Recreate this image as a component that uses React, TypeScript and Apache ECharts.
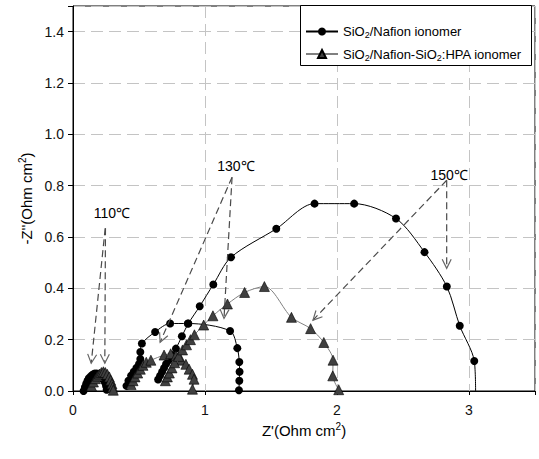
import React, { useEffect, useRef } from 'react';
import * as echarts from 'echarts';

// Series names (legend)
const seriesNames = ['SiO2/Nafion ionomer', 'SiO2/Nafion-SiO2:HPA ionomer'];

// SiO2/Nafion ionomer (circles) [Z', -Z'']
const nafion110 = [
  [0.08, 0.0], [0.09, 0.015], [0.1, 0.028], [0.11, 0.04], [0.12, 0.05], [0.135, 0.058],
  [0.15, 0.064], [0.165, 0.068], [0.18, 0.068], [0.195, 0.064], [0.21, 0.057],
  [0.225, 0.047], [0.24, 0.035], [0.25, 0.02], [0.255, 0.005],
];
const nafion130 = [
  [0.405, 0.02], [0.42, 0.04], [0.44, 0.06], [0.46, 0.075], [0.48, 0.09], [0.5, 0.105],
  [0.51, 0.125], [0.51, 0.152], [0.522, 0.185], [0.622, 0.23], [0.736, 0.263],
  [0.87, 0.263], [1.19, 0.234], [1.245, 0.167], [1.26, 0.113], [1.262, 0.075],
  [1.26, 0.04], [1.257, 0.003],
];
const nafion150 = [
  [0.645, 0.045], [0.66, 0.06], [0.675, 0.075], [0.69, 0.09], [0.705, 0.105],
  [0.725, 0.12], [0.75, 0.14], [0.78, 0.165], [0.825, 0.213], [0.874, 0.263],
  [0.96, 0.33], [1.063, 0.415], [1.197, 0.521], [1.54, 0.632], [1.83, 0.73],
  [2.13, 0.73], [2.447, 0.672], [2.663, 0.541], [2.832, 0.407], [2.93, 0.254],
  [3.04, 0.117], [3.05, 0.0],
];

// SiO2/Nafion-SiO2:HPA ionomer (triangles)
const hpa110 = [
  [0.14, 0.02], [0.155, 0.035], [0.17, 0.048], [0.185, 0.058], [0.2, 0.066],
  [0.215, 0.072], [0.23, 0.075], [0.245, 0.072], [0.26, 0.065], [0.275, 0.055],
  [0.285, 0.042], [0.295, 0.028], [0.3, 0.015], [0.305, 0.003],
];
const hpa130 = [
  [0.44, 0.025], [0.455, 0.04], [0.47, 0.055], [0.49, 0.07], [0.51, 0.085], [0.53, 0.1],
  [0.555, 0.112], [0.59, 0.12], [0.69, 0.14], [0.74, 0.145], [0.78, 0.137],
  [0.82, 0.12], [0.855, 0.104], [0.88, 0.085], [0.905, 0.065], [0.917, 0.046],
  [0.905, 0.007],
];
const hpa150 = [
  [0.7, 0.04], [0.715, 0.055], [0.73, 0.07], [0.75, 0.09], [0.77, 0.11], [0.8, 0.135],
  [0.83, 0.16], [0.86, 0.18], [0.89, 0.2], [0.92, 0.219], [0.99, 0.257], [1.06, 0.293],
  [1.17, 0.339], [1.3, 0.384], [1.45, 0.407], [1.655, 0.287], [1.8, 0.243],
  [1.9, 0.189], [1.97, 0.12], [1.968, 0.059], [2.013, 0.005],
];

// Annotations (data units): arrow [fromX, fromY, toX, toY]
const arrowSegments = [
  [0.244, 0.634, 0.138, 0.108],
  [0.246, 0.634, 0.241, 0.108],
  [1.205, 0.833, 0.66, 0.19],
  [1.205, 0.833, 1.144, 0.283],
  [2.831, 0.821, 2.831, 0.478],
  [2.831, 0.821, 1.818, 0.276],
];
const tempLabels = ['110℃', '130℃', '150℃'];
const tempLabelPos = [
  [0.295, 0.695],
  [1.234, 0.876],
  [2.85, 0.841],
];

const FONT = '"Liberation Sans", Arial, sans-serif';

export default function App() {
  const ref = useRef<HTMLDivElement>(null);

  useEffect(() => {
    const chart = echarts.init(ref.current as HTMLDivElement, null, { renderer: 'svg' });

    const circle = (data: number[][]) => ({
      type: 'line',
      name: seriesNames[0],
      data: data.map((d, i) =>
        i === data.length - 1 && data === nafion150 ? { value: d, symbol: 'none' } : d
      ),
      smooth: 0.3,
      symbol: 'circle',
      symbolSize: 8,
      itemStyle: { color: '#000' },
      lineStyle: { color: '#000', width: 1 },
      z: 2,
    });
    const tri = (data: number[][]) => ({
      type: 'line',
      name: seriesNames[1],
      data,
      smooth: 0.3,
      symbol: 'triangle',
      symbolSize: 10,
      itemStyle: { color: '#404040', borderColor: '#000', borderWidth: 0.6 },
      lineStyle: { color: '#808080', width: 1 },
      z: 3,
    });

    const legendFmt = (name: string) =>
      name === seriesNames[0]
        ? '{n|SiO}{s|2}{n|/Nafion ionomer}'
        : '{n|SiO}{s|2}{n|/Nafion-SiO}{s|2}{n|:HPA ionomer}';

    chart.setOption({
      animation: false,
      backgroundColor: '#fff',
      textStyle: { fontFamily: FONT },
      grid: {
        left: 73,
        top: 6,
        right: 4,
        bottom: 68,
        show: true,
        borderColor: '#000',
        borderWidth: 1,
        containLabel: false,
        outerBoundsMode: 'none',
      },
      legend: {
        data: seriesNames,
        orient: 'vertical',
        left: 305,
        top: 25,
        padding: 0,
        itemWidth: 32,
        itemHeight: 10,
        itemGap: 8,
        formatter: legendFmt,
        textStyle: {
          fontFamily: FONT,
          rich: {
            n: { fontSize: 13, color: '#000', lineHeight: 16, fontFamily: FONT },
            s: { fontSize: 9, color: '#000', lineHeight: 8, verticalAlign: 'bottom', fontFamily: FONT },
          },
        },
        z: 6,
      },
      graphic: [
        {
          type: 'rect',
          shape: { x: 300.5, y: 5.5, width: 231, height: 60 },
          style: { fill: '#fff', stroke: '#000', lineWidth: 1 },
          z: 4,
          silent: true,
        },
      ],
      xAxis: {
        type: 'value',
        min: 0,
        max: 3.5,
        interval: 1,
        name: "{n|Z'(Ohm cm}{p|2}{n|)}",
        nameLocation: 'middle',
        nameGap: 30,
        nameTextStyle: {
          rich: {
            n: { fontSize: 15, color: '#000', lineHeight: 18, fontFamily: FONT },
            p: { fontSize: 10, color: '#000', lineHeight: 9, verticalAlign: 'top', fontFamily: FONT },
          },
        },
        axisLine: { show: true, onZero: false, lineStyle: { color: '#000', width: 1 } },
        axisTick: { show: true, inside: false, length: 4, lineStyle: { color: '#000' } },
        axisLabel: {
          margin: 12,
          fontSize: 14,
          color: '#111',
          fontFamily: FONT,
          formatter: (v: number) => (Number.isInteger(v) ? String(v) : ''),
        },
        splitLine: {
          show: true,
          lineStyle: { color: '#c4c4c4', type: [12, 6], width: 1 },
        },
      },
      yAxis: {
        type: 'value',
        min: 0,
        max: 1.5,
        interval: 0.2,
        name: "{n|-Z''(Ohm cm}{p|2}{n|)}",
        nameLocation: 'middle',
        nameGap: 35,
        nameRotate: 90,
        nameTextStyle: {
          rich: {
            n: { fontSize: 15, color: '#000', lineHeight: 18, fontFamily: FONT },
            p: { fontSize: 10, color: '#000', lineHeight: 9, verticalAlign: 'top', fontFamily: FONT },
          },
        },
        axisLine: { show: true, onZero: false, lineStyle: { color: '#000', width: 1 } },
        axisTick: { show: true, inside: false, length: 5, lineStyle: { color: '#000' } },
        axisLabel: {
          margin: 9,
          fontSize: 14,
          color: '#111',
          fontFamily: FONT,
          formatter: (v: number) => (Math.abs(v - 1.5) < 1e-6 ? '' : v.toFixed(1)),
        },
        splitLine: {
          show: true,
          lineStyle: { color: '#c4c4c4', type: [12, 6], width: 1 },
        },
      },
      series: [
        circle(nafion110),
        circle(nafion130),
        circle(nafion150),
        tri(hpa110),
        tri(hpa130),
        tri(hpa150),
        {
          type: 'custom',
          name: 'arrows',
          data: arrowSegments,
          encode: { x: [0, 2], y: [1, 3] },
          silent: true,
          z: 5,
          renderItem: (params: any, api: any) => {
            const p1 = api.coord([api.value(0), api.value(1)]);
            const p2 = api.coord([api.value(2), api.value(3)]);
            const dx = p2[0] - p1[0];
            const dy = p2[1] - p1[1];
            const len = Math.hypot(dx, dy) || 1;
            const ux = dx / len;
            const uy = dy / len;
            const L = 9;
            const W = 4.5;
            const a = [p2[0] - ux * L - uy * W, p2[1] - uy * L + ux * W];
            const b = [p2[0] - ux * L + uy * W, p2[1] - uy * L - ux * W];
            return {
              type: 'group',
              children: [
                {
                  type: 'line',
                  shape: { x1: p1[0], y1: p1[1], x2: p2[0], y2: p2[1] },
                  style: { stroke: '#4a4a4a', lineWidth: 1.2, lineDash: [7, 4], fill: null },
                },
                {
                  type: 'polyline',
                  shape: { points: [a, p2, b] },
                  style: { stroke: '#666', lineWidth: 1.2, fill: null },
                },
              ],
            };
          },
        },
        {
          type: 'custom',
          name: 'tempLabels',
          data: tempLabelPos,
          encode: { x: 0, y: 1 },
          silent: true,
          z: 5,
          renderItem: (params: any, api: any) => {
            const p = api.coord([api.value(0), api.value(1)]);
            return {
              type: 'text',
              x: p[0],
              y: p[1],
              style: {
                text: tempLabels[params.dataIndex],
                fontSize: 14,
                fontFamily: FONT,
                fill: '#000',
                align: 'center',
                verticalAlign: 'middle',
              },
            };
          },
        },
      ],
    });

    return () => {
      chart.dispose();
    };
  }, []);

  return (
    <div
      ref={ref}
      style={{ position: 'fixed', left: 0, top: 0, width: 539, height: 459, background: '#fff' }}
    />
  );
}
